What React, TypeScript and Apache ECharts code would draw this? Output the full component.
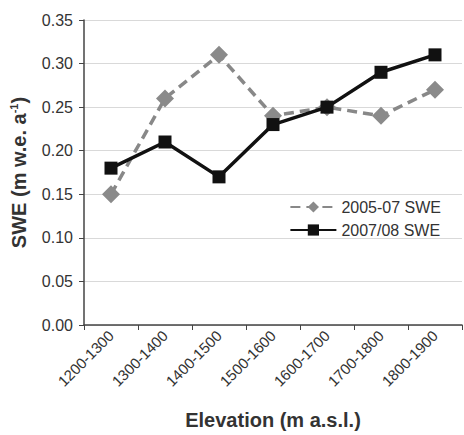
import React, { useEffect, useRef } from "react";
import * as echarts from "echarts";

const categories = ["1200-1300", "1300-1400", "1400-1500", "1500-1600", "1600-1700", "1700-1800", "1800-1900"];
const swe0507 = [0.15, 0.26, 0.31, 0.24, 0.25, 0.24, 0.27];
const swe0708 = [0.18, 0.21, 0.17, 0.23, 0.25, 0.29, 0.31];
const seriesNames = ["2005-07 SWE", "2007/08 SWE"];

const FONT = "Liberation Sans, Arial, sans-serif";

export default function App() {
  const ref = useRef<HTMLDivElement>(null);
  useEffect(() => {
    if (!ref.current) return;
    const chart = echarts.init(ref.current, undefined, { renderer: "svg" });
    chart.setOption({
      animation: false,
      textStyle: { fontFamily: FONT },
      grid: { left: 83, right: 2, top: 20, bottom: 108, containLabel: false },
      legend: {
        orient: "vertical",
        right: 18,
        top: 194,
        itemWidth: 46,
        itemHeight: 14,
        itemGap: 7,
        textStyle: { fontSize: 16, color: "#333", fontFamily: FONT },
        data: seriesNames,
      },
      xAxis: {
        type: "category",
        data: categories,
        boundaryGap: true,
        name: "Elevation (m a.s.l.)",
        nameLocation: "middle",
        nameGap: 85,
        nameTextStyle: { fontSize: 20, fontWeight: "bold", color: "#333", fontFamily: FONT },
        axisLine: { lineStyle: { color: "#444", width: 1.5 } },
        axisTick: { show: true, alignWithLabel: false, length: 5, lineStyle: { color: "#444" } },
        axisLabel: { rotate: 45, fontSize: 15, color: "#333", margin: 8, interval: 0 },
        splitLine: { show: false },
      },
      yAxis: {
        type: "value",
        min: 0,
        max: 0.35,
        interval: 0.05,
        name: "{b|SWE (m w.e. a}{s|-1}{b|)}",
        nameLocation: "middle",
        nameGap: 55,
        nameTextStyle: {
          rich: {
            b: { fontSize: 20, fontWeight: "bold", color: "#333", fontFamily: FONT },
            s: { fontSize: 11, fontWeight: "bold", color: "#333", fontFamily: FONT, verticalAlign: "top", padding: [0, 0, 10, 0] },
          },
        },
        axisLine: { show: true, lineStyle: { color: "#444", width: 1.5 } },
        axisTick: { show: true, length: 5, lineStyle: { color: "#444" } },
        axisLabel: { fontSize: 16, color: "#333", margin: 11, formatter: (v: number) => v.toFixed(2) },
        splitLine: { show: true, lineStyle: { color: "#d9d9d9", width: 1 } },
      },
      series: [
        {
          name: seriesNames[0],
          type: "line",
          data: swe0507,
          symbol: "diamond",
          symbolSize: 18,
          lineStyle: { color: "#888", width: 3.5, type: [10, 6] },
          itemStyle: { color: "#8a8a8a" },
          z: 2,
        },
        {
          name: seriesNames[1],
          type: "line",
          data: swe0708,
          symbol: "rect",
          symbolSize: 13,
          lineStyle: { color: "#111", width: 3.5 },
          itemStyle: { color: "#111" },
          z: 3,
        },
      ],
    });
    return () => chart.dispose();
  }, []);
  return <div ref={ref} style={{ width: 464, height: 435, position: "absolute", left: 0, top: 0 }} />;
}
